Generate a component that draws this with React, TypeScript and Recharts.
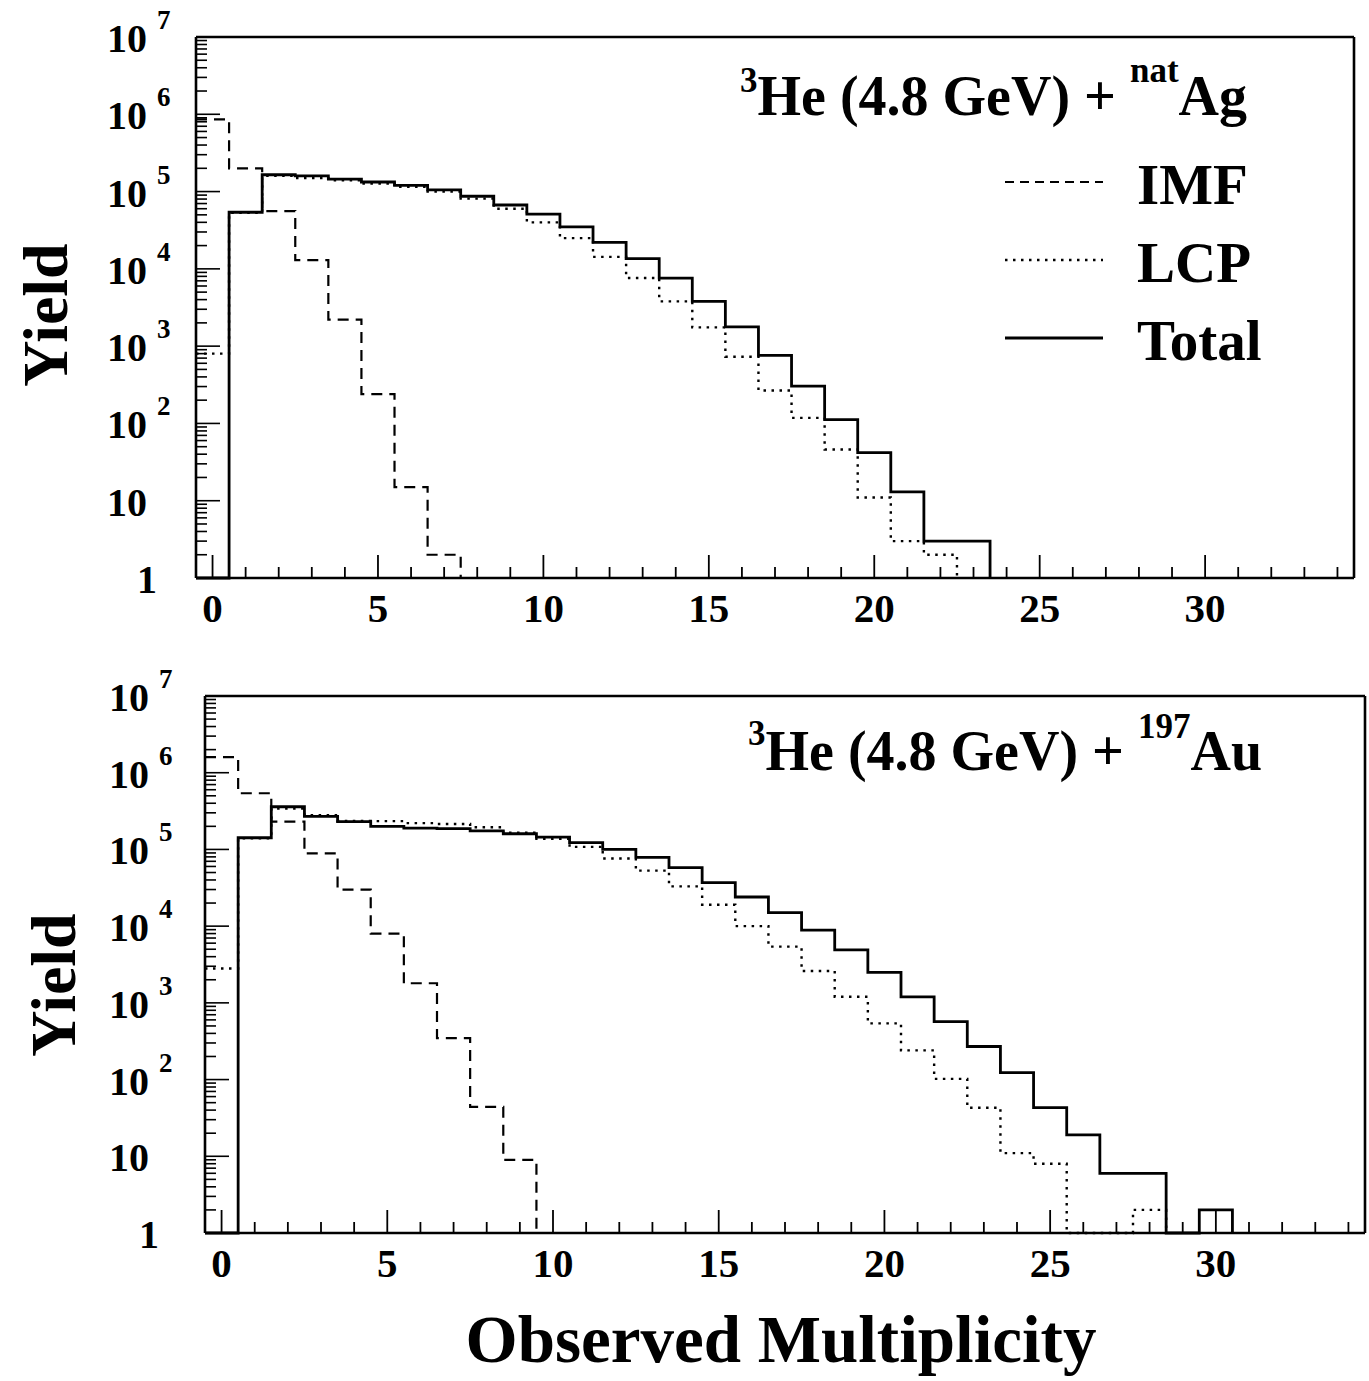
import { Line, LineChart, ReferenceLine, XAxis, YAxis } from "recharts";

const agImf = [8.6e5, 2.0e5, 5.6e4, 1.3e4, 2.2e3, 240, 15, 2];
const agLcp = [
  800, 5.3e4, 1.6e5, 1.5e5, 1.4e5, 1.27e5, 1.15e5, 1.0e5, 8.1e4, 6.0e4, 4.0e4, 2.5e4, 1.43e4, 7.6e3,
  3.8e3, 1.75e3, 730, 267, 118, 46, 11, 3, 2,
];
const agTotal = [
  0, 5.4e4, 1.65e5, 1.6e5, 1.45e5, 1.33e5, 1.2e5, 1.05e5, 8.7e4, 6.7e4, 5.1e4, 3.5e4, 2.2e4, 1.36e4,
  7.6e3, 3.8e3, 1.78e3, 760, 303, 112, 42, 13, 3, 3,
];

const auImf = [1.6e6, 5.4e5, 2.3e5, 8.9e4, 3.0e4, 8.0e3, 1.8e3, 346, 44, 9];
const auLcp = [
  2.8e3, 1.4e5, 3.4e5, 2.8e5, 2.35e5, 2.34e5, 2.2e5, 2.15e5, 1.95e5, 1.65e5, 1.38e5, 1.08e5, 7.6e4,
  5.3e4, 3.3e4, 1.9e4, 1.0e4, 5.4e3, 2.6e3, 1.2e3, 540, 240, 102, 43, 11, 8, 0, 0, 2,
];
const auTotal = [
  0, 1.42e5, 3.6e5, 2.7e5, 2.3e5, 2.0e5, 1.9e5, 1.87e5, 1.75e5, 1.6e5, 1.45e5, 1.23e5, 1.0e5, 7.9e4,
  5.8e4, 3.7e4, 2.4e4, 1.5e4, 8.9e3, 4.9e3, 2.5e3, 1.2e3, 570, 270, 123, 43, 19, 6, 6, 0, 2,
];

const xTicks = [
  0, 1, 2, 3, 4, 5, 6, 7, 8, 9, 10, 11, 12, 13, 14, 15, 16, 17, 18, 19, 20, 21, 22, 23, 24, 25, 26, 27,
  28, 29, 30, 31, 32, 33, 34,
];
const xLabels = [0, 5, 10, 15, 20, 25, 30];
const decades = [1, 10, 100, 1e3, 1e4, 1e5, 1e6];
const yTicks = [...decades.flatMap((d) => [1, 2, 3, 4, 5, 6, 7, 8, 9].map((m) => m * d)), 1e7];

const FONT = "'Liberation Serif', 'Times New Roman', serif";
const INK = "#000";

const STYLE = {
  imf: { strokeWidth: 2.2, dash: "11 7" },
  lcp: { strokeWidth: 2.4, dash: "2.5 5.5" },
  total: { strokeWidth: 2.8, dash: undefined as string | undefined },
};

// one row per bin edge; stepAfter draws the histogram outline, empty bins sit on the y=1 floor
function histRows(series: Record<string, number[]>) {
  const n = Math.max(...Object.values(series).map((a) => a.length)) + 1;
  const rows: Record<string, number>[] = [];
  for (let k = 0; k < n; k++) {
    const row: Record<string, number> = { edge: k - 0.5 };
    for (const [key, vals] of Object.entries(series)) {
      if (k < vals.length) row[key] = Math.max(vals[k], 1);
      else if (k === vals.length) row[key] = 1;
    }
    rows.push(row);
  }
  return rows;
}

const agRows = histRows({ imf: agImf, lcp: agLcp, total: agTotal });
const auRows = histRows({ imf: auImf, lcp: auLcp, total: auTotal });

function XTick(props: any) {
  const { x, y, payload } = props;
  const v = payload.value as number;
  const major = v % 5 === 0;
  return (
    <g>
      <line x1={x} x2={x} y1={y} y2={y - (major ? 23 : 11)} stroke={INK} strokeWidth={1.8} />
      {xLabels.includes(v) && (
        <text x={x} y={y + 44} textAnchor="middle" fontFamily={FONT} fontWeight={700} fontSize={41} fill={INK}>
          {v}
        </text>
      )}
    </g>
  );
}

function YTick(props: any) {
  const { x, y, payload, labelEnd } = props;
  const v = payload.value as number;
  const e = Math.round(Math.log10(v));
  const major = Math.abs(v - Math.pow(10, e)) < 1e-6 * v;
  return (
    <g>
      <line x1={x} x2={x + (major ? 24 : 11)} y1={y} y2={y} stroke={INK} strokeWidth={1.6} />
      {major && (
        <text
          x={e === 0 ? labelEnd + 10 : labelEnd}
          y={y + 15}
          textAnchor="end"
          fontFamily={FONT}
          fontWeight={700}
          fontSize={40}
          fill={INK}
        >
          {e === 0 ? "1" : "10"}
        </text>
      )}
      {major && e >= 2 && (
        <text x={labelEnd + 10} y={y - 8} fontFamily={FONT} fontWeight={700} fontSize={27} fill={INK}>
          {e}
        </text>
      )}
    </g>
  );
}

function Panel({
  rows,
  top,
  height,
  margin,
  labelEnd,
}: {
  rows: Record<string, number>[];
  top: number;
  height: number;
  margin: { top: number; right: number; bottom: number; left: number };
  labelEnd: number;
}) {
  return (
    <div style={{ position: "absolute", left: 0, top, width: 1369, height }}>
      <LineChart width={1369} height={height} data={rows} margin={margin}>
        <XAxis
          dataKey="edge"
          type="number"
          domain={[-0.5, 34.5]}
          ticks={xTicks}
          interval={0}
          height={40}
          tickSize={0}
          tickMargin={0}
          tickLine={false}
          axisLine={{ stroke: INK, strokeWidth: 2.6 }}
          tick={(p: any) => <XTick {...p} />}
        />
        <YAxis
          type="number"
          scale="log"
          domain={[1, 1e7]}
          ticks={yTicks}
          interval={0}
          width={60}
          tickSize={0}
          tickMargin={0}
          tickLine={false}
          axisLine={{ stroke: INK, strokeWidth: 2.6 }}
          tick={(p: any) => <YTick {...p} labelEnd={labelEnd} />}
        />
        <ReferenceLine y={1e7} stroke={INK} strokeWidth={2.6} />
        <ReferenceLine x={34.5} stroke={INK} strokeWidth={2.6} />
        <Line
          type="stepAfter"
          dataKey="lcp"
          stroke={INK}
          strokeWidth={STYLE.lcp.strokeWidth}
          strokeDasharray={STYLE.lcp.dash}
          dot={false}
          activeDot={false}
          isAnimationActive={false}
        />
        <Line
          type="stepAfter"
          dataKey="imf"
          stroke={INK}
          strokeWidth={STYLE.imf.strokeWidth}
          strokeDasharray={STYLE.imf.dash}
          dot={false}
          activeDot={false}
          isAnimationActive={false}
        />
        <Line
          type="stepAfter"
          dataKey="total"
          stroke={INK}
          strokeWidth={STYLE.total.strokeWidth}
          dot={false}
          activeDot={false}
          isAnimationActive={false}
        />
      </LineChart>
    </div>
  );
}

const legendItems = [
  { key: "imf", label: "IMF", y: 182 },
  { key: "lcp", label: "LCP", y: 260 },
  { key: "total", label: "Total", y: 338 },
] as const;

export default function App() {
  const txt = { fontFamily: FONT, fontWeight: 700, fill: INK } as const;
  return (
    <div style={{ position: "absolute", left: 0, top: 0, width: 1369, height: 1381, background: "#fff" }}>
      <Panel rows={agRows} top={0} height={654} margin={{ top: 37, right: 15, bottom: 36, left: 136 }} labelEnd={147} />
      <Panel rows={auRows} top={660} height={640} margin={{ top: 36, right: 4, bottom: 27, left: 145 }} labelEnd={149} />

      <svg
        width={1369}
        height={1381}
        style={{ position: "absolute", left: 0, top: 0, pointerEvents: "none", whiteSpace: "pre" }}
      >
        <text x={740} y={115} fontSize={56} {...txt}>
          <tspan fontSize={35} dy={-23}>3</tspan>
          <tspan dy={23}>He (4.8 GeV) + </tspan>
          <tspan fontSize={35} dy={-33}>nat</tspan>
          <tspan dy={33}>Ag</tspan>
        </text>
        <text x={748} y={770} fontSize={56} {...txt}>
          <tspan fontSize={35} dy={-25}>3</tspan>
          <tspan dy={25}>He (4.8 GeV) + </tspan>
          <tspan fontSize={35} dy={-32}>197</tspan>
          <tspan dy={32}>Au</tspan>
        </text>

        {legendItems.map((it) => (
          <g key={it.key}>
            <line
              x1={1005}
              x2={1103}
              y1={it.y}
              y2={it.y}
              stroke={INK}
              strokeWidth={STYLE[it.key].strokeWidth}
              strokeDasharray={it.key === "imf" ? "9 6" : STYLE[it.key].dash}
            />
            <text x={1137} y={it.y + 22} fontSize={57} {...txt}>
              {it.label}
            </text>
          </g>
        ))}

        <text transform="translate(67,315) rotate(-90)" textAnchor="middle" fontSize={64} {...txt}>
          Yield
        </text>
        <text transform="translate(75,985) rotate(-90)" textAnchor="middle" fontSize={64} {...txt}>
          Yield
        </text>
        <text x={781} y={1362} textAnchor="middle" fontSize={67} {...txt}>
          Observed Multiplicity
        </text>
      </svg>
    </div>
  );
}
